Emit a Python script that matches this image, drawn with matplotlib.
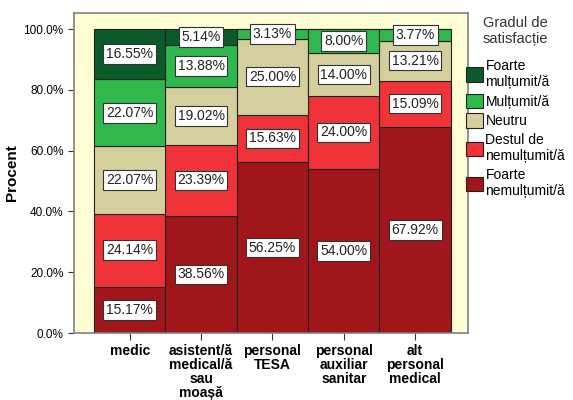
import matplotlib
matplotlib.use('Agg')
import matplotlib.pyplot as plt
import numpy as np
from matplotlib.patches import Patch

plt.rcParams['font.family'] = ['Liberation Sans', 'DejaVu Sans']

categories = ['medic', 'asistent/ă\nmedical/ă\nsau\nmoașă', 'personal\nTESA',
              'personal\nauxiliar\nsanitar', 'alt\npersonal\nmedical']
levels = ['Foarte\nmulțumit/ă', 'Mulțumit/ă', 'Neutru',
          'Destul de\nnemulțumit/ă', 'Foarte\nnemulțumit/ă']

# values per level, bottom of the stack first
foarte_nemultumit = [15.17, 38.56, 56.25, 54.00, 67.92]
destul_nemultumit = [24.14, 23.39, 15.63, 24.00, 15.09]
neutru = [22.07, 19.02, 25.00, 14.00, 13.21]
multumit = [22.07, 13.88, 3.13, 8.00, 3.77]
foarte_multumit = [16.55, 5.14, 0, 0, 0]

stack = [foarte_nemultumit, destul_nemultumit, neutru, multumit, foarte_multumit]
colors = ['#a0161b', '#ef3338', '#d4cf9d', '#2fb84b', '#0b5a2a']

fig = plt.figure(figsize=(5.73, 4.0), dpi=100)
ax = fig.add_axes([74 / 573, 67 / 400, 394 / 573, 320 / 400])
ax.set_facecolor('#fffdd3')

x = np.arange(len(categories))
bottom = np.zeros(len(categories))
for vals, col in zip(stack, colors):
    vals = np.array(vals)
    ax.bar(x, vals, width=1.0, bottom=bottom, color=col, edgecolor='#222222', linewidth=0.8)
    for xi, v, b in zip(x, vals, bottom):
        if v > 0:
            ax.text(xi, b + v / 2, '%.2f%%' % v, ha='center', va='center', fontsize=10,
                    color='#222222',
                    bbox=dict(boxstyle='square,pad=0.2', facecolor='white',
                              edgecolor='#333333', linewidth=0.8))
    bottom += vals

ax.set_xlim(-0.78, 4.74)
ax.set_ylim(0, 105.3)
ax.set_yticks([0, 20, 40, 60, 80, 100])
ax.set_yticklabels(['%.1f%%' % t for t in [0, 20, 40, 60, 80, 100]], fontsize=8.5)
ax.set_xticks(x)
ax.set_xticklabels(categories, fontsize=10, fontweight='bold', linespacing=1.0)
ax.tick_params(axis='x', length=5, color='#333333', pad=3)
ax.tick_params(axis='y', length=4, color='#333333')
ax.set_ylabel('Procent', fontsize=11, fontweight='bold', labelpad=3)
for s in ax.spines.values():
    s.set_color('#808080')
    s.set_linewidth(1.2)

handles = [Patch(facecolor=c, edgecolor='#222222', linewidth=0.8) for c in colors[::-1]]
leg = fig.legend(handles, levels, loc='upper left', bbox_to_anchor=(466 / 573, 0.96),
                 frameon=False, fontsize=10, title='Gradul de\nsatisfacție',
                 title_fontsize=10.5, handlelength=1.2, handleheight=1.2,
                 handletextpad=0.2, labelspacing=0.35, borderaxespad=0, borderpad=0)
leg.get_title().set_color('#333333')
leg.get_title().set_multialignment('center')
leg._legend_box.align = 'center'
leg._legend_box.sep = 9

fig.savefig('out.png', dpi=100)
